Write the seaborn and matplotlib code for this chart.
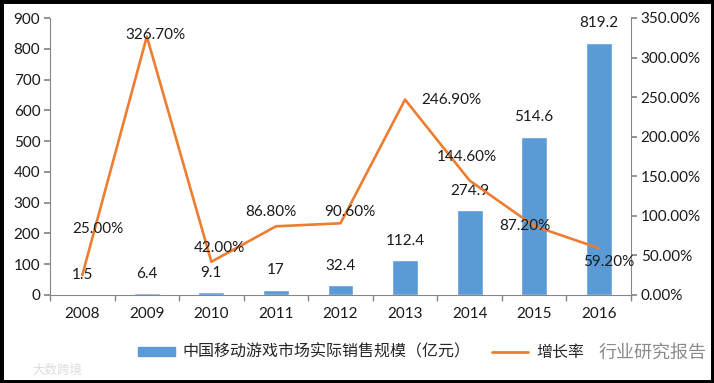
import matplotlib
matplotlib.use("Agg")
import matplotlib.pyplot as plt
import seaborn as sns
import pandas as pd
from matplotlib.patches import Rectangle
from matplotlib.lines import Line2D
from matplotlib.patches import Patch

years = ["2008", "2009", "2010", "2011", "2012", "2013", "2014", "2015", "2016"]
sales = [1.5, 6.4, 9.1, 17, 32.4, 112.4, 274.9, 514.6, 819.2]
growth = [25.00, 326.70, 42.00, 86.80, 90.60, 246.90, 144.60, 87.20, 59.20]
bar_label = "中国移动游戏市场实际销售规模（亿元）"
line_label = "增长率"

sns.set_theme(style="white")
plt.rcParams['font.family'] = ['Lato', 'Noto Sans CJK SC', 'DejaVu Sans']

BLUE = "#5B9BD5"
ORANGE = "#ED7D31"
GRAY = "#868686"
TXT = "#1a1a1a"

df = pd.DataFrame({"year": years, "sales": sales, "growth": growth})

fig = plt.figure(figsize=(7.14, 3.83), dpi=100)
ax = fig.add_axes([50/714, 1-295/383, 581/714, 277/383])
sns.barplot(data=df, x="year", y="sales", color=BLUE, width=0.4, saturation=1, ax=ax)
ax.set_ylim(0, 900)
ax.set_xlim(-0.5, 8.5)
ax.set_yticks(range(0, 901, 100))
ax.set_xlabel("")
ax.set_ylabel("")
for s in ["top", "right"]:
    ax.spines[s].set_visible(False)
for s in ["left", "bottom"]:
    ax.spines[s].set_color(GRAY)
    ax.spines[s].set_linewidth(0.8)
ax.tick_params(axis="y", left=True, length=4, color=GRAY, labelsize=11, pad=3, labelcolor=TXT)
ax.tick_params(axis="x", bottom=False, labelsize=11, pad=3, labelcolor=TXT)
ax.set_xticks([i - 0.5 for i in range(10)], minor=True)
ax.tick_params(axis="x", which="minor", bottom=True, length=4, color=GRAY)

ax2 = ax.twinx()
sns.lineplot(x=list(range(len(years))), y=growth, color=ORANGE, linewidth=1.9, ax=ax2)
ax2.set_ylim(0, 350)
ax2.set_yticks(range(0, 351, 50))
ax2.set_yticklabels([f"{v:.2f}%" for v in range(0, 351, 50)])
for s in ["top", "left", "bottom"]:
    ax2.spines[s].set_visible(False)
ax2.spines["right"].set_color(GRAY)
ax2.spines["right"].set_linewidth(0.8)
ax2.tick_params(axis="y", right=True, length=4, color=GRAY, labelsize=11, pad=3, labelcolor=TXT)

for i, v in enumerate(sales):
    ax.annotate(f"{v:g}", (i, v), xytext=(0, 14), textcoords="offset points",
                ha="center", va="center", fontsize=11, color=TXT)

offs = [(11, 33), (6, 1), (6, 10), (-4, 10), (7, 8), (33, 0), (-2, 17), (-7, 0), (7, -10)]
for i, v in enumerate(growth):
    ax2.annotate(f"{v:.2f}%", (i, v), xytext=offs[i], textcoords="offset points",
                 ha="center", va="center", fontsize=11, color=TXT)

handles = [Patch(facecolor=BLUE, edgecolor=BLUE), Line2D([], [], color=ORANGE, linewidth=2)]
fig.legend(handles, [bar_label, line_label], loc="center", bbox_to_anchor=(0.506, 1-352/383),
           ncol=2, frameon=False, fontsize=11.5, handlelength=2.3, handleheight=0.5,
           columnspacing=1.3, handletextpad=0.5)

# watermarks
fig.text(0.838, 1-352/383, "行业研究报告", fontsize=13, color="#8a8a8a", ha="left", va="center")
fig.text(0.045, 1-370/383, "大数跨境", fontsize=9, color="#dddddd", ha="left", va="center")

fig.patches.append(Rectangle((0, 0), 1, 1, transform=fig.transFigure, fill=False,
                             edgecolor="black", linewidth=5))
fig.savefig("out.png", dpi=100)
